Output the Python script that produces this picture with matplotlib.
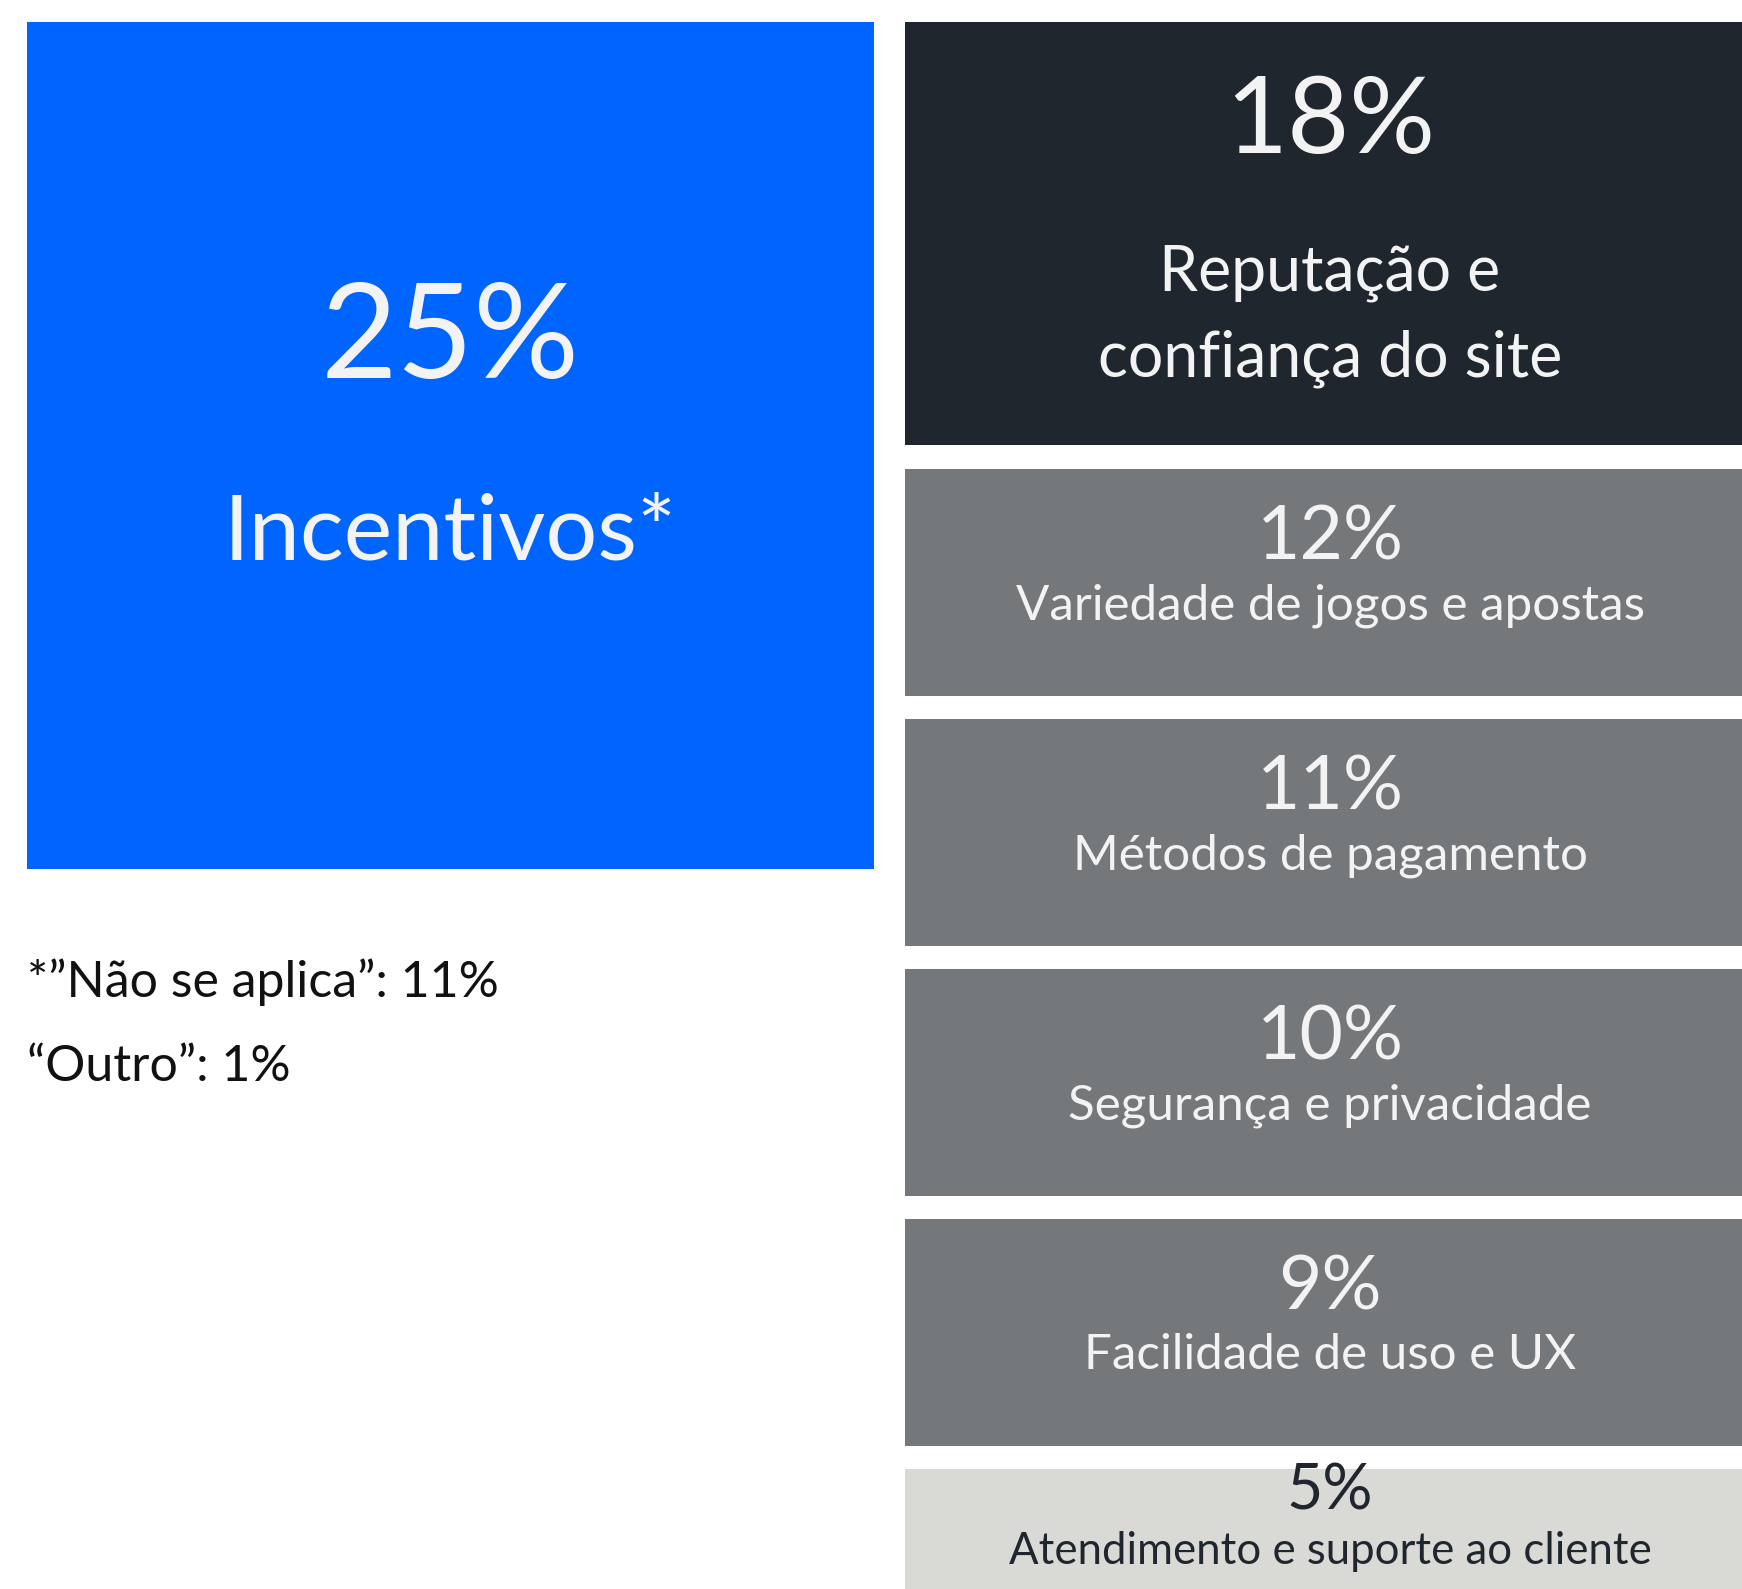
import matplotlib
matplotlib.use("Agg")
import matplotlib.pyplot as plt
from matplotlib.patches import Rectangle

plt.rcParams['font.family'] = ['Lato', 'DejaVu Sans']

# Fatores de escolha da casa de apostas
destaque_valor = 25
destaque_rotulo = "Incentivos*"

fatores = ["Reputação e\nconfiança do site",
           "Variedade de jogos e apostas",
           "Métodos de pagamento",
           "Segurança e privacidade",
           "Facilidade de uso e UX",
           "Atendimento e suporte ao cliente"]
valores = [18, 12, 11, 10, 9, 5]

notas = ["*”Não se aplica”: 11%", "“Outro”: 1%"]

# Cores
AZUL = "#0064FF"
ESCURO = "#1F262D"
CINZA = "#75787B"
CLARO = "#D9DAD5"
BRANCO = "#F3F3F3"

W, H = 1742, 1589
fig = plt.figure(figsize=(W / 100, H / 100), dpi=100)
ax = fig.add_axes([0, 0, 1, 1])
ax.set_xlim(0, W)
ax.set_ylim(H, 0)
ax.axis("off")

# Bloco principal
x0, y0, lado = 27, 22, 847
ax.add_patch(Rectangle((x0, y0), lado, lado, color=AZUL, lw=0))
cx = x0 + lado / 2
ax.text(cx, 378, f"{destaque_valor}%", color=BRANCO, fontsize=95,
        ha="center", va="baseline")
ax.text(cx, 559, destaque_rotulo, color=BRANCO, fontsize=66,
        ha="center", va="baseline")

# Coluna da direita
xd, larg = 905, 860
cxd = 1330
alto_topo = 423
passo, alto = 250, 227
topos = [22] + [469 + i * passo for i in range(len(valores) - 1)]
for i, (rot, val, y) in enumerate(zip(fatores, valores, topos)):
    if i == 0:
        ax.add_patch(Rectangle((xd, y), larg, alto_topo, color=ESCURO, lw=0))
        ax.text(cxd, y + 131, f"{val}%", color=BRANCO, fontsize=77,
                ha="center", va="baseline")
        for k, linha in enumerate(rot.split("\n")):
            ax.text(cxd, y + 269 + k * 85, linha, color=BRANCO, fontsize=45,
                    ha="center", va="baseline")
    elif i == len(valores) - 1:
        ax.add_patch(Rectangle((xd, y), larg, alto, color=CLARO, lw=0))
        ax.text(cxd, y + 40, f"{val}%", color=ESCURO, fontsize=45,
                ha="center", va="baseline")
        ax.text(cxd, y + 95, rot, color=ESCURO, fontsize=31.5,
                ha="center", va="baseline")
    else:
        ax.add_patch(Rectangle((xd, y), larg, alto, color=CINZA, lw=0))
        ax.text(cxd, y + 91, f"{val}%", color=BRANCO, fontsize=54,
                ha="center", va="baseline")
        ax.text(cxd, y + 150, rot, color=BRANCO, fontsize=35.5,
                ha="center", va="baseline")

# Notas de rodapé
for j, nota in enumerate(notas):
    ax.text(27, 997 + j * 84, nota, color="#111111", fontsize=36,
            ha="left", va="baseline")

fig.savefig("out.png", dpi=100, facecolor="white")
